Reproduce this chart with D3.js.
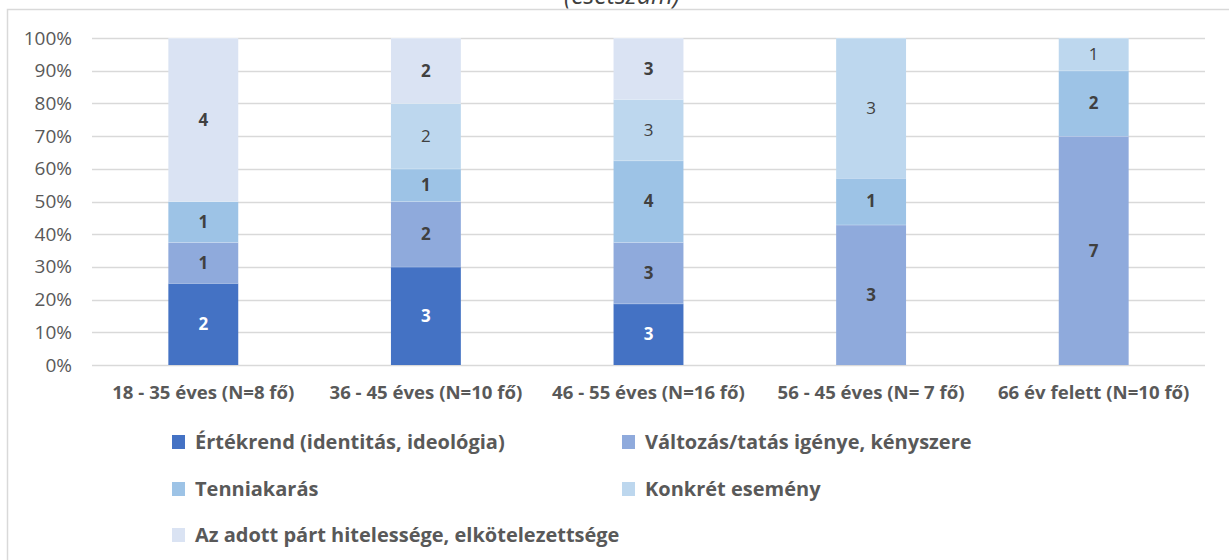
<!DOCTYPE html>
<html>
<head>
<meta charset="utf-8">
<script src="https://cdn.jsdelivr.net/npm/d3@7"></script>
<style>
  html, body { margin: 0; padding: 0; background: #fff; }
  svg { display: block; }
  text { font-family: "Open Sans", "Liberation Sans", sans-serif; }
</style>
</head>
<body>
<svg id="chart" width="1229" height="560"></svg>
<script>
const categories = [
  "18 - 35 éves (N=8 fő)",
  "36 - 45 éves (N=10 fő)",
  "46 - 55 éves (N=16 fő)",
  "56 - 45 éves (N= 7 fő)",
  "66 év felett (N=10 fő)"
];
const seriesNames = [
  "Értékrend (identitás, ideológia)",
  "Változás/tatás igénye, kényszere",
  "Tenniakarás",
  "Konkrét esemény",
  "Az adott párt hitelessége, elkötelezettsége"
];
const ertekrend   = [2, 3, 3, 0, 0];
const valtozas    = [1, 2, 3, 3, 7];
const tenniakaras = [1, 1, 4, 1, 2];
const konkret     = [0, 2, 3, 3, 1];
const hiteles     = [4, 2, 3, 0, 0];
const yTicks = [0, 0.1, 0.2, 0.3, 0.4, 0.5, 0.6, 0.7, 0.8, 0.9, 1];
const titleText = "(esetszám)";

const seriesValues = [ertekrend, valtozas, tenniakaras, konkret, hiteles];
const colors = ["#4472C4", "#8FAADC", "#9DC3E6", "#BDD7EE", "#DAE3F3"];
const labelColors = ["#FFFFFF", "#404040", "#404040", "#404040", "#404040"];
const labelWeights = ["bold", "bold", "bold", "normal", "bold"];

const svg = d3.select("#chart");

// chart border (extends beyond the visible frame)
svg.append("rect")
  .attr("x", 7.5).attr("y", 9.5)
  .attr("width", 1400).attr("height", 800)
  .attr("fill", "none").attr("stroke", "#D9D9D9").attr("stroke-width", 1.5);

// title (clipped at the top, as in the source)
svg.append("text")
  .attr("x", 622).attr("y", 4)
  .attr("text-anchor", "middle")
  .attr("font-size", 25).attr("font-style", "italic")
  .attr("fill", "#404040")
  .text(titleText);

const pLeft = 92, pRight = 1205, pTop = 38, pBottom = 365;

const x = d3.scaleBand().domain(categories).range([pLeft, pRight])
  .paddingInner(0.686).paddingOuter(0.343);
const y = d3.scaleLinear().domain([0, 1]).range([pBottom, pTop]);

// gridlines
svg.append("g").selectAll("line").data(yTicks).join("line")
  .attr("x1", pLeft).attr("x2", pRight)
  .attr("y1", d => Math.round(y(d)) + 0.5).attr("y2", d => Math.round(y(d)) + 0.5)
  .attr("stroke", "#D9D9D9").attr("stroke-width", 1.3);

// y axis labels
const yAxis = d3.axisLeft(y).tickValues(yTicks).tickFormat(d3.format(".0%")).tickSize(0).tickPadding(0);
const gy = svg.append("g").attr("transform", `translate(${pLeft - 20},0)`).call(yAxis);
gy.select(".domain").remove();
gy.selectAll("text").attr("font-size", 19).attr("fill", "#595959")
  .style("font-family", "'Open Sans', sans-serif");

// stacked data
const data = categories.map((c, i) => {
  const o = { cat: c };
  seriesNames.forEach((s, j) => o[s] = seriesValues[j][i]);
  return o;
});
const stack = d3.stack().keys(seriesNames).offset(d3.stackOffsetExpand);
const stacked = stack(data);

const groups = svg.append("g").selectAll("g").data(stacked).join("g")
  .attr("fill", (d, i) => colors[i]);

groups.selectAll("rect").data(d => d).join("rect")
  .attr("x", d => x(d.data.cat))
  .attr("width", x.bandwidth())
  .attr("y", d => y(d[1]))
  .attr("height", d => y(d[0]) - y(d[1]));

// white separators between segments
groups.selectAll("line.sep").data(d => d.filter(p => p[1] - p[0] > 0)).join("line")
  .attr("class", "sep")
  .attr("x1", d => x(d.data.cat)).attr("x2", d => x(d.data.cat) + x.bandwidth())
  .attr("y1", d => y(d[1])).attr("y2", d => y(d[1]))
  .attr("stroke", "#ffffff").attr("stroke-opacity", 0.5).attr("stroke-width", 1);

// data labels
stacked.forEach((ser, i) => {
  svg.append("g").selectAll("text").data(ser.filter(p => p.data[ser.key] > 0)).join("text")
    .attr("x", d => x(d.data.cat) + x.bandwidth() / 2)
    .attr("y", d => (y(d[0]) + y(d[1])) / 2)
    .attr("dy", "0.35em")
    .attr("text-anchor", "middle")
    .attr("font-size", 17)
    .attr("font-weight", labelWeights[i])
    .attr("fill", labelColors[i])
    .text(d => d.data[ser.key]);
});

// x axis labels
const xAxis = d3.axisBottom(x).tickSize(0).tickPadding(0);
const gx = svg.append("g").attr("transform", `translate(0,${pBottom + 27})`).call(xAxis);
gx.select(".domain").remove();
gx.selectAll("text").attr("font-size", 18.6).attr("font-weight", "bold")
  .attr("fill", "#595959").attr("dy", "0.35em")
  .style("font-family", "'Open Sans', sans-serif");

// legend
const legendPos = [
  [172, 442], [622, 442],
  [172, 489], [622, 489],
  [172, 535]
];
const lg = svg.append("g").selectAll("g").data(seriesNames).join("g")
  .attr("transform", (d, i) => `translate(${legendPos[i][0]},${legendPos[i][1]})`);
lg.append("rect").attr("x", 0).attr("y", -7).attr("width", 13).attr("height", 14)
  .attr("fill", (d, i) => colors[i]);
lg.append("text").attr("x", 23).attr("dy", "0.35em")
  .attr("font-size", 20).attr("font-weight", "bold").attr("fill", "#595959")
  .text(d => d);
</script>
</body>
</html>
